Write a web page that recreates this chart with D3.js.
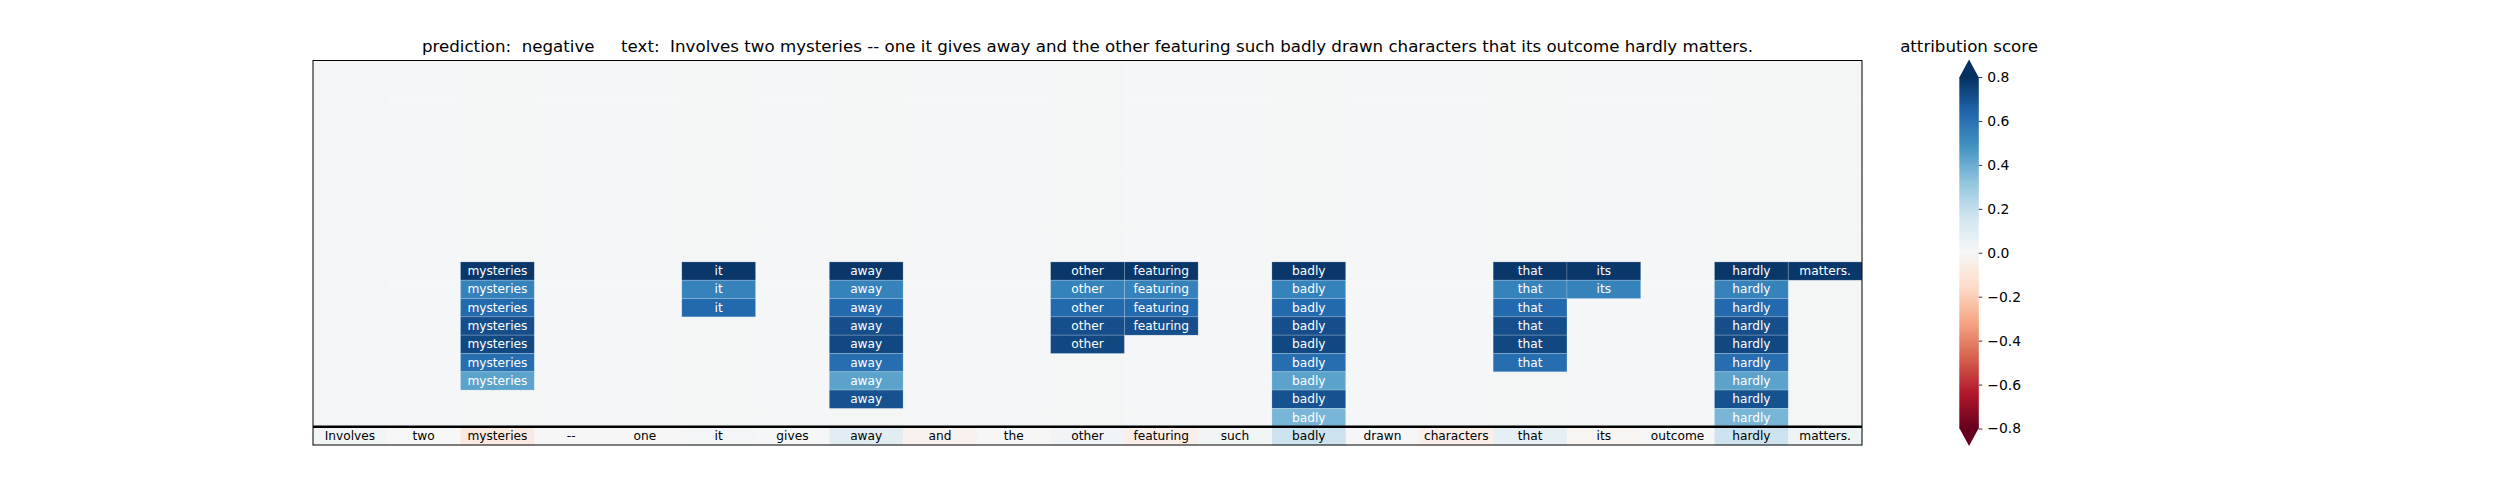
<!DOCTYPE html>
<html>
<head>
<meta charset="utf-8">
<script src="https://cdn.jsdelivr.net/npm/d3@7"></script>
<style>
  html, body { margin: 0; padding: 0; background: #ffffff; }
  svg { display: block; }
  text { font-family: "DejaVu Sans", sans-serif; }
</style>
</head>
<body>
<svg id="chart" width="2500" height="500"></svg>
<script>
// ---------------- DATA ----------------
const tokens = ["Involves","two","mysteries","--","one","it","gives","away","and","the","other","featuring","such","badly","drawn","characters","that","its","outcome","hardly","matters."];
// attribution score of each token (bottom strip)
const tokenScores = [0.02,0.0,-0.08,0.005,0.005,0.015,0.01,0.09,-0.035,-0.005,0.025,-0.05,0.02,0.17,0.005,-0.05,0.07,-0.02,0.005,0.17,0.04];
// faint background score of each column in the upper rows
const backgroundScores = [0.018,0.01,0.012,0.01,0.01,0.012,0.01,0.012,0.01,0.01,0.012,0.01,0.01,0.012,0.01,0.01,0.012,0.01,0.01,0.012,0.012];
// number of highlighted rows for each token (stacked downward from the first highlighted row)
const highlightDepth = [0,0,7,0,0,3,0,8,0,0,5,4,0,9,0,0,6,2,0,9,1];
const highlightStartRow = 11;
// score of each highlighted row
const rowScores = [0.78,0.54,0.63,0.71,0.73,0.61,0.43,0.70,0.37];
const upperRowCount = 20;
const colorbarTicks = [-0.8,-0.6,-0.4,-0.2,0.0,0.2,0.4,0.6,0.8];
const predictionLabel = "negative";
const sentence = "Involves two mysteries -- one it gives away and the other featuring such badly drawn characters that its outcome hardly matters.";
const colorbarTitle = "attribution score";

// ---------------- COLORS (matplotlib RdBu, vmin -0.8, vmax 0.8) ----------------
const rdbu = ["#67001f","#b2182b","#d6604d","#f4a582","#fddbc7","#f7f7f7","#d1e5f0","#92c5de","#4393c3","#2166ac","#053061"];
const vmin = -0.8, vmax = 0.8;
const color = d3.scaleLinear()
  .domain(d3.range(rdbu.length).map(i => vmin + i * (vmax - vmin) / (rdbu.length - 1)))
  .range(rdbu)
  .interpolate(d3.interpolateRgb)
  .clamp(true);

// ---------------- BUILD CELLS ----------------
const cells = [];
for (let r = 0; r < upperRowCount; r++) {
  tokens.forEach((tok, c) => {
    const k = r - highlightStartRow;
    const hi = k >= 0 && k < highlightDepth[c];
    cells.push({ r, c, value: hi ? rowScores[k] : backgroundScores[c], label: hi ? tok : null, hi, bottom: false });
  });
}
tokens.forEach((tok, c) => {
  cells.push({ r: upperRowCount, c, value: tokenScores[c], label: tok, hi: false, bottom: true });
});

// ---------------- LAYOUT ----------------
const svg = d3.select("#chart");
const axLeft = 313, axRight = 1862, axTop = 60.5, axBottom = 445;
const x = d3.scaleBand().domain(d3.range(tokens.length)).range([axLeft, axRight]);
const y = d3.scaleBand().domain(d3.range(upperRowCount + 1)).range([axTop, axBottom]);

const g = svg.append("g");

// background cells
g.selectAll("rect.cell")
  .data(cells.filter(d => !d.hi))
  .join("rect")
  .attr("class", "cell")
  .attr("x", d => x(d.c))
  .attr("y", d => y(d.r))
  .attr("width", x.bandwidth() + 0.5)
  .attr("height", y.bandwidth() + 0.5)
  .attr("fill", d => color(d.value));

// highlighted cells
g.selectAll("rect.hcell")
  .data(cells.filter(d => d.hi))
  .join("rect")
  .attr("class", "hcell")
  .attr("x", d => x(d.c))
  .attr("y", d => y(d.r))
  .attr("width", x.bandwidth())
  .attr("height", y.bandwidth())
  .attr("fill", d => color(d.value))
  .attr("stroke", "rgba(255,255,255,0.22)")
  .attr("stroke-width", 0.8);

// labels
g.selectAll("text.lab")
  .data(cells.filter(d => d.label))
  .join("text")
  .attr("class", "lab")
  .attr("x", d => x(d.c) + x.bandwidth() / 2)
  .attr("y", d => y(d.r) + y.bandwidth() / 2)
  .attr("text-anchor", "middle")
  .attr("dominant-baseline", "central")
  .attr("font-size", "12.2px")
  .attr("fill", d => d.bottom ? "#000000" : "#ffffff")
  .text(d => d.label);

// frame
g.append("rect")
  .attr("x", axLeft).attr("y", axTop)
  .attr("width", axRight - axLeft).attr("height", axBottom - axTop)
  .attr("fill", "none").attr("stroke", "#000").attr("stroke-width", 1);

// separator line above the token strip
g.append("line")
  .attr("x1", axLeft).attr("x2", axRight)
  .attr("y1", y(upperRowCount)).attr("y2", y(upperRowCount))
  .attr("stroke", "#000").attr("stroke-width", 2.5);

// title
svg.append("text")
  .attr("x", (axLeft + axRight) / 2)
  .attr("y", 52)
  .attr("text-anchor", "middle")
  .attr("font-size", "16.67px")
  .style("white-space", "pre")
  .text("prediction:  " + predictionLabel + "     text:  " + sentence);

// ---------------- COLORBAR ----------------
const cbX = 1959.3, cbW = 19.5;
const cy = d3.scaleLinear().domain([vmin, vmax]).range([428.5, 77]);
const ext = 17.5;

const defs = svg.append("defs");
const grad = defs.append("linearGradient")
  .attr("id", "cbgrad")
  .attr("x1", 0).attr("y1", 1).attr("x2", 0).attr("y2", 0);
d3.range(0, 1.0001, 0.02).forEach(t => {
  grad.append("stop")
    .attr("offset", t)
    .attr("stop-color", color(vmin + t * (vmax - vmin)));
});

const cb = svg.append("g");
cb.append("rect")
  .attr("x", cbX).attr("y", cy(vmax))
  .attr("width", cbW).attr("height", cy(vmin) - cy(vmax))
  .attr("fill", "url(#cbgrad)");
// extension triangles
cb.append("path")
  .attr("d", d3.line()([[cbX, cy(vmax) + 0.5], [cbX + cbW / 2, cy(vmax) - ext], [cbX + cbW, cy(vmax) + 0.5]]) + "Z")
  .attr("fill", color(vmax));
cb.append("path")
  .attr("d", d3.line()([[cbX, cy(vmin) - 0.5], [cbX + cbW / 2, cy(vmin) + ext], [cbX + cbW, cy(vmin) - 0.5]]) + "Z")
  .attr("fill", color(vmin));

const fmt = v => {
  const s = d3.format(".1f")(Math.abs(v) < 1e-9 ? 0 : v);
  return s.replace("-", "\u2212");
};
const axis = d3.axisRight(cy).tickValues(colorbarTicks).tickSize(3.5).tickPadding(5).tickFormat(fmt);
const ax = cb.append("g")
  .attr("transform", `translate(${cbX + cbW},0)`)
  .call(axis);
ax.select(".domain").remove();
ax.selectAll(".tick line").attr("stroke", "#000").attr("stroke-width", 0.8);
ax.selectAll(".tick text")
  .attr("font-family", "DejaVu Sans, sans-serif")
  .attr("font-size", "13.9px")
  .attr("fill", "#000");

svg.append("text")
  .attr("x", cbX + cbW / 2)
  .attr("y", 52)
  .attr("text-anchor", "middle")
  .attr("font-size", "16.67px")
  .text(colorbarTitle);
</script>
</body>
</html>
